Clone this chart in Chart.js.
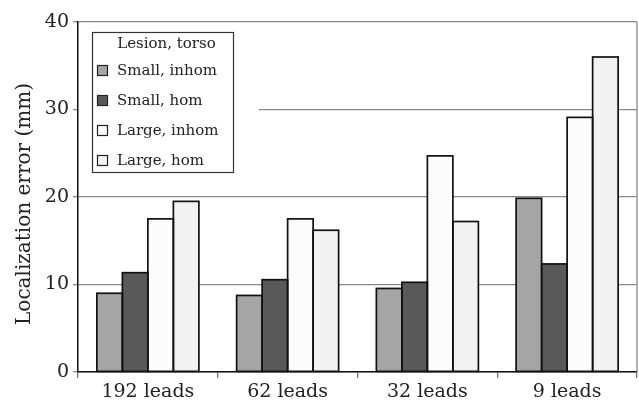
<!DOCTYPE html>
<html>
<head>
<meta charset="utf-8">
<script src="https://cdn.jsdelivr.net/npm/chart.js@4/dist/chart.umd.min.js"></script>
<style>
  html, body { margin: 0; padding: 0; background: #fff; }
  #wrap { width: 639px; height: 405px; }
</style>
</head>
<body>
<div id="wrap"><canvas id="c" width="639" height="405"></canvas></div>
<script>
// Localization error (mm) per lead configuration and lesion/torso model
const leadSets = ['192 leads', '62 leads', '32 leads', '9 leads'];
const smallInhom = [9.0, 8.75, 9.55, 19.85];
const smallHom   = [11.35, 10.55, 10.25, 12.35];
const largeInhom = [17.5, 17.5, 24.7, 29.1];
const largeHom   = [19.5, 16.2, 17.2, 36.0];
const seriesNames = ['Small, inhom', 'Small, hom', 'Large, inhom', 'Large, hom'];
const seriesFills = ['#a5a5a5', '#595959', '#fcfcfc', '#f2f2f2'];
const legendTitle = 'Lesion, torso';
const yTitle = 'Localization error (mm)';

const SERIF = "'DejaVu Serif', 'Liberation Serif', serif";

// Frame edge, grid clearing behind the legend, bar outlines, y title and legend box
const frameAndLegend = {
  id: 'frameAndLegend',
  beforeDatasetsDraw(chart) {
    const { ctx, chartArea: a } = chart;
    ctx.save();
    ctx.fillStyle = '#fff';
    ctx.fillRect(a.left + 1, a.top + 2, 180, 165);
    ctx.strokeStyle = '#8a8a8a';
    ctx.lineWidth = 1.3;
    ctx.beginPath();
    ctx.moveTo(a.right, a.top);
    ctx.lineTo(a.right, a.bottom);
    ctx.stroke();
    ctx.restore();
  },
  afterDatasetsDraw(chart) {
    // outline every bar on its own edges so neighbours share a single line
    const { ctx } = chart;
    ctx.save();
    ctx.strokeStyle = '#111';
    ctx.lineWidth = 1.7;
    chart.data.datasets.forEach((ds, di) => {
      chart.getDatasetMeta(di).data.forEach(bar => {
        const p = bar.getProps(['x', 'y', 'width', 'base'], true);
        ctx.strokeRect(p.x - p.width / 2, p.y, p.width, p.base - p.y);
      });
    });
    ctx.restore();
  },
  afterDraw(chart) {
    const { ctx, chartArea: a } = chart;
    ctx.save();
    // y-axis title
    ctx.fillStyle = '#222';
    ctx.font = '20px ' + SERIF;
    ctx.textAlign = 'center';
    ctx.textBaseline = 'middle';
    ctx.translate(25, 204);
    ctx.rotate(-Math.PI / 2);
    ctx.fillText(yTitle, 0, 0);
    ctx.restore();

    const bx = a.left + 14, by = a.top + 10, bw = 141, bh = 140;
    ctx.save();
    ctx.fillStyle = '#fff';
    ctx.fillRect(bx, by, bw, bh);
    ctx.strokeStyle = '#333';
    ctx.lineWidth = 1.2;
    ctx.strokeRect(bx + 0.5, by + 0.5, bw, bh);
    ctx.fillStyle = '#222';
    ctx.font = '15px ' + SERIF;
    ctx.textBaseline = 'middle';
    ctx.textAlign = 'center';
    ctx.fillText(legendTitle, bx + bw / 2 + 4, by + 12);
    ctx.textAlign = 'left';
    seriesNames.forEach((name, i) => {
      const cy = by + 38 + i * 30;
      ctx.fillStyle = seriesFills[i];
      ctx.fillRect(bx + 5, cy - 5, 10, 10);
      ctx.strokeStyle = '#222';
      ctx.lineWidth = 1.2;
      ctx.strokeRect(bx + 5.5, cy - 4.5, 10, 10);
      ctx.fillStyle = '#222';
      ctx.fillText(name, bx + 25, cy + 1);
    });
    ctx.restore();
  }
};

const datasets = [smallInhom, smallHom, largeInhom, largeHom].map((vals, i) => ({
  label: seriesNames[i],
  data: vals,
  backgroundColor: seriesFills[i],
  borderWidth: 0,
  categoryPercentage: 0.73,
  barPercentage: 1.0
}));

new Chart(document.getElementById('c'), {
  type: 'bar',
  data: { labels: leadSets, datasets },
  plugins: [frameAndLegend],
  options: {
    responsive: false,
    animation: false,
    devicePixelRatio: 1,
    layout: { padding: { top: 22, right: 2, left: 0, bottom: 0 } },
    plugins: { legend: { display: false }, tooltip: { enabled: false } },
    scales: {
      x: {
        grid: { offset: true, drawOnChartArea: false, drawTicks: true, tickLength: 6, color: '#777', lineWidth: 1.3 },
        border: { display: true, color: '#111', width: 1.5 },
        ticks: { color: '#222', font: { family: SERIF, size: 19 }, padding: 3 },
        afterFit(s) { s.height = 33; }
      },
      y: {
        min: 0, max: 40,
        ticks: { stepSize: 10, color: '#222', font: { family: SERIF, size: 19 }, padding: 4 },
        grid: { color: '#888', lineWidth: 1.3, drawTicks: true, tickLength: 5 },
        border: { display: true, color: '#111', width: 1.5 },
        afterFit(s) { s.width = 78; }
      }
    }
  }
});
</script>
</body>
</html>
